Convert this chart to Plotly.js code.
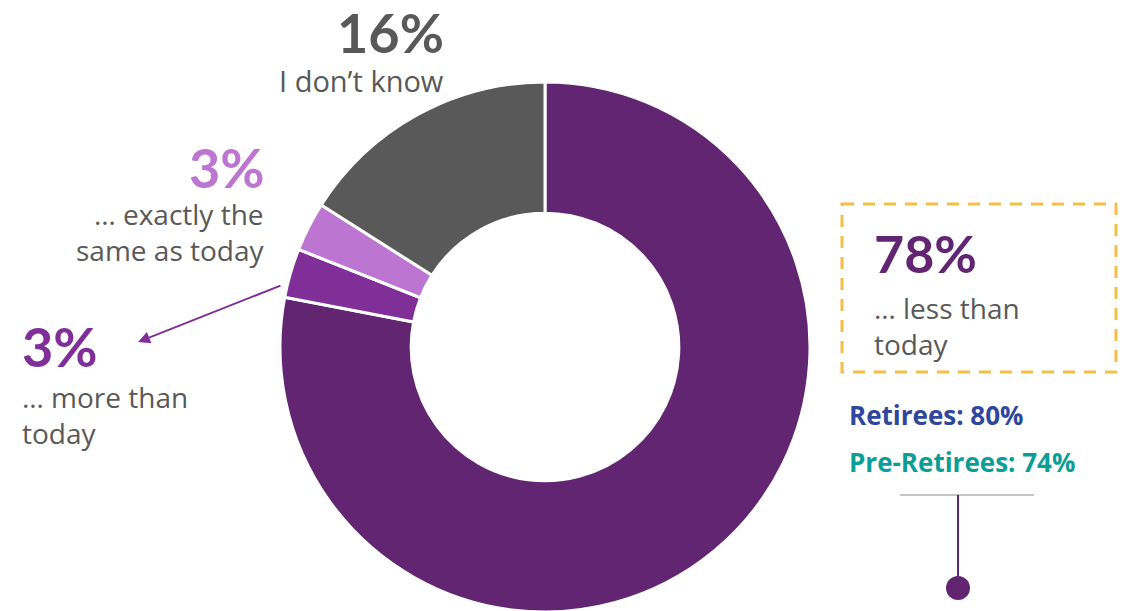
<!DOCTYPE html>
<html><head><meta charset="utf-8">
<script src="https://cdn.plot.ly/plotly-3.0.1.min.js"></script>
<style>html,body{margin:0;padding:0;overflow:hidden;background:#fff}#chart{width:1127px;height:694px}</style>
</head><body><div id="chart"></div>
<script>
// Data
var labels = ["… less than today", "… more than today", "… exactly the same as today", "I don't know"];
var values = [78, 3, 3, 16];
var colors = ["#612571", "#812F98", "#BC76D2", "#595959"];
var pctText = ["78%", "3%", "3%", "16%"];
var labelLines = [["… less than", "today"], ["… more than", "today"], ["… exactly the", "same as today"], ["I don’t know"]];
var retireesLabel = "Retirees: 80%";
var preRetireesLabel = "Pre-Retirees: 74%";

var W = 1127, H = 694;
function px(x){return x/W;}
function py(y){return 1 - y/H;}
var FONT = "'Open Sans', Lato, sans-serif";
var PFONT = "Lato, 'Open Sans', sans-serif";
var grey = "#595959";

function ann(text, x, y, size, color, anchor, bold, fam){
  return {text: bold ? "<b>"+text+"</b>" : text, x: px(x), y: py(y), xref:"paper", yref:"paper",
    xanchor: anchor, yanchor:"middle", align: anchor, showarrow:false,
    font:{family:fam || FONT, size:size, color:color}};
}

var annotations = [
  ann(pctText[3], 446, 32, 54, grey, "right", true, PFONT),
  ann(labelLines[3].join("<br>"), 446, 80, 29, grey, "right", false),
  ann(pctText[2], 267, 167, 54, colors[2], "right", true, PFONT),
  ann(labelLines[2].join("<br>"), 267, 232, 28, grey, "right", false),
  ann(pctText[1], 20, 346, 54, colors[1], "left", true, PFONT),
  ann(labelLines[1].join("<br>"), 20, 415, 28, grey, "left", false),
  ann(pctText[0], 872, 253, 52, colors[0], "left", true, PFONT),
  ann(labelLines[0].join("<br>"), 872, 326, 28, grey, "left", false),
  ann(retireesLabel, 847, 415, 26, "#2E479C", "left", true),
  ann(preRetireesLabel, 847, 462, 26, "#0B9E96", "left", true),
  {text:"", x:px(138), y:py(342), xref:"paper", yref:"paper", showarrow:true,
   ax:144, ay:-57, axref:"pixel", ayref:"pixel", arrowhead:2, arrowsize:1.2, arrowwidth:2, arrowcolor:colors[1], standoff:0}
];

var shapes = [
  {type:"rect", xref:"paper", yref:"paper", x0:px(842), x1:px(1116), y0:py(204), y1:py(372),
   line:{color:"#F2BE45", width:3, dash:"12px,9px"}, fillcolor:"rgba(0,0,0,0)"},
  {type:"line", xref:"paper", yref:"paper", x0:px(900), x1:px(1034), y0:py(495), y1:py(495),
   line:{color:"#C4C4C4", width:2}},
  {type:"line", xref:"paper", yref:"paper", x0:px(958), x1:px(958), y0:py(495), y1:py(586),
   line:{color:colors[0], width:2}},
  {type:"circle", xref:"paper", yref:"paper", x0:px(946), x1:px(970), y0:py(576), y1:py(600),
   line:{color:colors[0], width:0}, fillcolor:colors[0]}
];

var trace = {
  type:"pie", labels:labels, values:values, sort:false, direction:"clockwise", rotation:0,
  hole:0.505, marker:{colors:colors, line:{color:"#ffffff", width:3}},
  textinfo:"none", hoverinfo:"skip",
  domain:{x:[px(280), px(810)], y:[py(612), py(82)]}
};

Plotly.newPlot("chart", [trace], {
  width:W, height:H, margin:{l:0,r:0,t:0,b:0}, showlegend:false,
  paper_bgcolor:"#ffffff", plot_bgcolor:"#ffffff",
  annotations:annotations, shapes:shapes
}, {displayModeBar:false, staticPlot:true});
</script></body></html>
